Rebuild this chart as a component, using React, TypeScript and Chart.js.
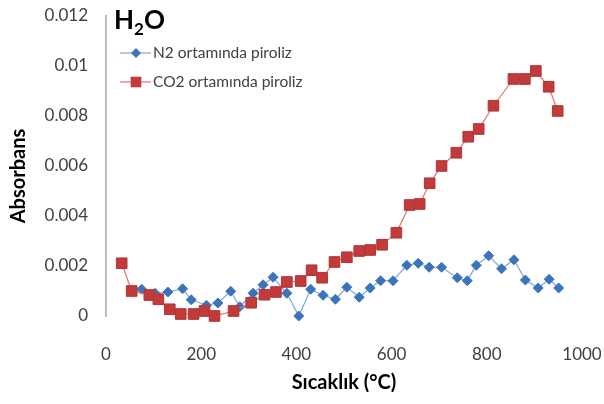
import React, { useEffect, useRef } from "react";
import { Chart, registerables } from "chart.js";

Chart.register(...registerables);

// Temperature (°C) and absorbance of the H2O band for each pyrolysis atmosphere
const n2Temps = [75, 103, 130, 161, 179, 211, 235, 262, 281, 309, 330, 351, 380, 405, 430, 456, 482, 506, 532, 555, 577, 603, 632, 656, 679, 705, 738, 759, 778, 804, 831, 857, 881, 908, 931, 951];
const n2Abs = [0.00107, 0.00091, 0.00096, 0.00109, 0.00065, 0.00043, 0.00052, 0.00099, 0.00037, 0.00091, 0.00125, 0.00155, 0.00091, 0.0, 0.00107, 0.00083, 0.00067, 0.00115, 0.00075, 0.00112, 0.00141, 0.00141, 0.00203, 0.00211, 0.00195, 0.00195, 0.00153, 0.00141, 0.00203, 0.00241, 0.00189, 0.00225, 0.00144, 0.00112, 0.00147, 0.00112];

const co2Temps = [33, 54, 91, 110, 134, 157, 184, 207, 228, 268, 305, 333, 357, 380, 409, 432, 454, 480, 506, 532, 555, 580, 610, 638, 659, 680, 705, 736, 761, 783, 814, 856, 880, 903, 930, 949];
const co2Abs = [0.00211, 0.001, 0.00084, 0.00067, 0.00027, 0.00008, 0.00008, 0.0002, 0.0, 0.0002, 0.00053, 0.00085, 0.00096, 0.00136, 0.0014, 0.00183, 0.00153, 0.00216, 0.00235, 0.0026, 0.00264, 0.00285, 0.00333, 0.00444, 0.00448, 0.00531, 0.006, 0.00653, 0.00717, 0.00748, 0.00841, 0.00948, 0.00948, 0.0098, 0.00917, 0.0082];

const xTickValues = [0, 200, 400, 600, 800, 1000];
const yTickValues = [0, 0.002, 0.004, 0.006, 0.008, 0.01, 0.012];

const seriesNames = ["N2 ortamında piroliz", "CO2 ortamında piroliz"];
const xTitle = "Sıcaklık (°C)";
const yTitle = "Absorbans";

const FONT = "Lato, 'Open Sans', sans-serif";
const BLUE = "#3C74BC";
const BLUE_LINE = "#7FA7DA";
const RED = "#C23A3A";
const RED_LINE = "#DB7473";

const decorations = {
  id: "decorations",
  afterDraw(chart: Chart) {
    const ctx = chart.ctx;
    ctx.save();

    // H2O heading with subscript
    ctx.fillStyle = "#000";
    ctx.textBaseline = "alphabetic";
    ctx.textAlign = "left";
    ctx.font = `bold 26px ${FONT}`;
    let x = 114;
    ctx.fillText("H", x, 29);
    x += ctx.measureText("H").width;
    ctx.font = `bold 17px ${FONT}`;
    ctx.fillText("2", x, 35);
    x += ctx.measureText("2").width;
    ctx.font = `bold 26px ${FONT}`;
    ctx.fillText("O", x, 29);

    // legend
    const rows = [
      { y: 53, line: BLUE_LINE, fill: BLUE, diamond: true, r: 5 },
      { y: 82, line: RED_LINE, fill: RED, diamond: false, r: 7.5 },
    ];
    rows.forEach((row, i) => {
      ctx.strokeStyle = row.line;
      ctx.lineWidth = 1.2;
      ctx.beginPath();
      ctx.moveTo(120, row.y);
      ctx.lineTo(151, row.y);
      ctx.stroke();
      ctx.fillStyle = row.fill;
      if (row.diamond) {
        ctx.beginPath();
        ctx.moveTo(136, row.y - row.r);
        ctx.lineTo(136 + row.r, row.y);
        ctx.lineTo(136, row.y + row.r);
        ctx.lineTo(136 - row.r, row.y);
        ctx.closePath();
        ctx.fill();
      } else {
        const s = row.r * Math.SQRT1_2;
        ctx.fillRect(136 - s, row.y - s, 2 * s, 2 * s);
      }
      ctx.fillStyle = "#404040";
      ctx.font = `15.5px ${FONT}`;
      ctx.textBaseline = "middle";
      ctx.fillText(seriesNames[i], 153, row.y);
    });

    // axis titles
    ctx.fillStyle = "#000";
    ctx.font = `bold 20px ${FONT}`;
    ctx.textAlign = "center";
    ctx.textBaseline = "middle";
    ctx.fillText(xTitle, 344, 383);

    ctx.translate(19, 176);
    ctx.rotate(-Math.PI / 2);
    ctx.fillText(yTitle, 0, 0);

    ctx.restore();
  },
};

export default function App() {
  const canvasRef = useRef<HTMLCanvasElement>(null);

  useEffect(() => {
    if (!canvasRef.current) return;
    const chart = new Chart(canvasRef.current, {
      type: "scatter",
      data: {
        datasets: [
          {
            label: seriesNames[0],
            data: n2Temps.map((t, i) => ({ x: t, y: n2Abs[i] })),
            showLine: true,
            borderColor: BLUE_LINE,
            borderWidth: 1.2,
            pointStyle: "rectRot",
            pointRadius: 5,
            pointBackgroundColor: BLUE,
            pointBorderColor: BLUE,
            pointBorderWidth: 1,
            order: 2,
          },
          {
            label: seriesNames[1],
            data: co2Temps.map((t, i) => ({ x: t, y: co2Abs[i] })),
            showLine: true,
            borderColor: RED_LINE,
            borderWidth: 1.2,
            pointStyle: "rect",
            pointRadius: 7.5,
            pointBackgroundColor: RED,
            pointBorderColor: "#B33434",
            pointBorderWidth: 1,
            order: 1,
          },
        ],
      },
      options: {
        responsive: false,
        animation: false,
        clip: false,
        layout: { autoPadding: false, padding: { left: 0, top: 16, right: 22, bottom: 0 } },
        plugins: {
          legend: { display: false },
          tooltip: { enabled: false },
        },
        scales: {
          x: {
            type: "linear",
            min: 0,
            max: 1000,
            grid: { display: false, drawTicks: false },
            border: { display: false },
            afterBuildTicks: (scale: any) => {
              scale.ticks = xTickValues.map((v) => ({ value: v }));
            },
            afterFit: (scale: any) => {
              scale.height = 88;
              scale.paddingLeft = 0;
              scale.paddingRight = 0;
            },
            ticks: {
              padding: 28,
              color: "#404040",
              font: { family: FONT, size: 17 },
              maxRotation: 0,
              callback: (v: any) => String(v),
            },
          },
          y: {
            type: "linear",
            min: 0,
            max: 0.012,
            grid: { display: false, drawTicks: false },
            border: { display: true, color: "#BDBDBD", width: 2 },
            afterBuildTicks: (scale: any) => {
              scale.ticks = yTickValues.map((v) => ({ value: v }));
            },
            afterFit: (scale: any) => {
              scale.width = 106;
              scale.paddingTop = 0;
              scale.paddingBottom = 0;
            },
            ticks: {
              padding: 18,
              color: "#404040",
              font: { family: FONT, size: 17 },
              callback: (v: any) => String(Number(Number(v).toFixed(3))),
            },
          },
        },
      },
      plugins: [decorations],
    });
    return () => chart.destroy();
  }, []);

  return (
    <div style={{ position: "fixed", left: 0, top: 0, width: 604, height: 404, background: "#fff" }}>
      <canvas ref={canvasRef} width={604} height={404} />
    </div>
  );
}
